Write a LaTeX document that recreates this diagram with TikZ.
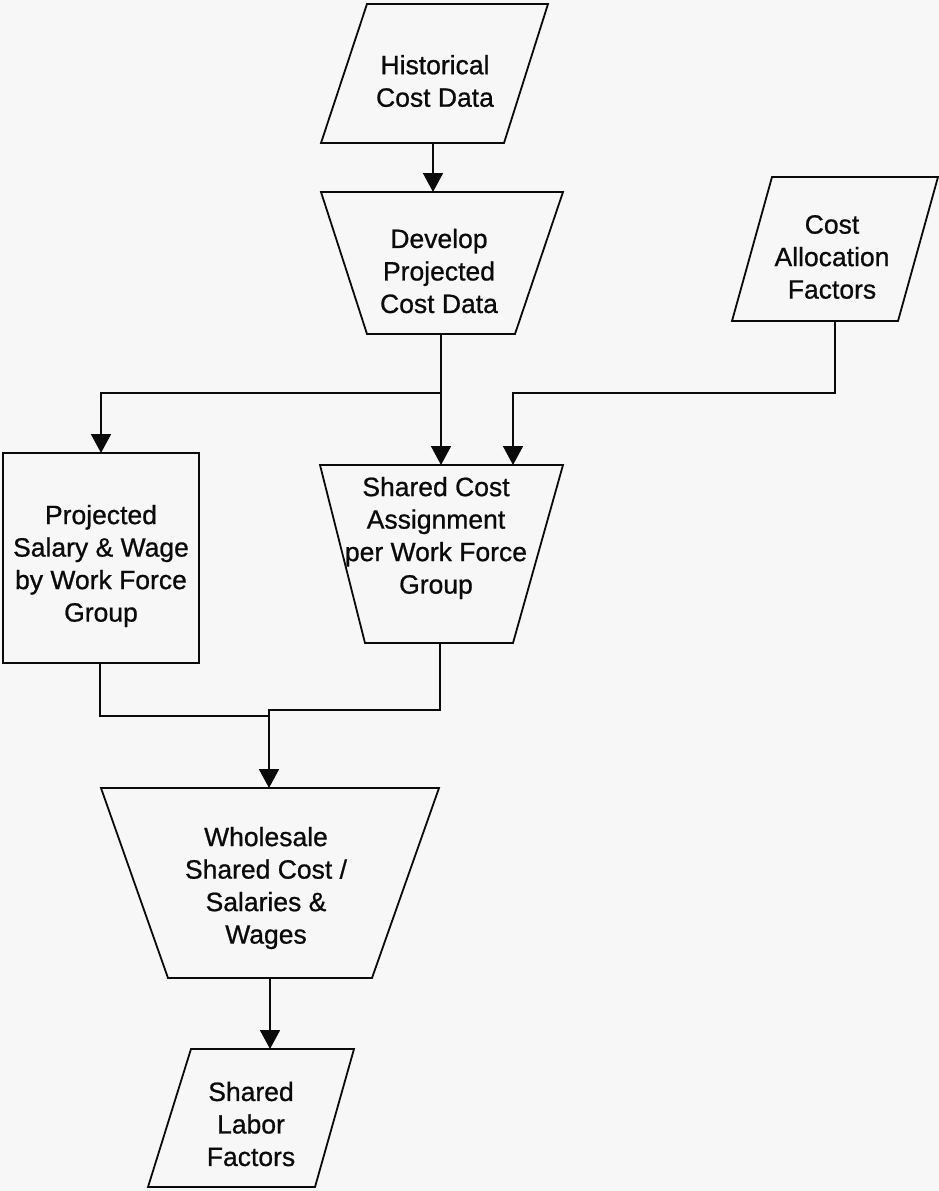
\documentclass[tikz,border=0pt]{standalone}
\usepackage{fontspec}
\setmainfont{Liberation Sans}
\newfontfamily\diagfont{Liberation Sans}[BoldFont={Liberation Sans},BoldFeatures={FakeBold=0.8}]
\usetikzlibrary{arrows.meta}
\definecolor{bgc}{HTML}{F7F7F7}
\definecolor{ink}{HTML}{0A0A0A}
\begin{document}
\begin{tikzpicture}[x=1pt,y=-1pt,
  shapeline/.style={draw=ink,line width=1.8pt,line join=miter},
  txt/.style={align=center,inner sep=0pt,text=ink,font=\diagfont\bfseries\fontsize{26.5}{32.5}\selectfont},
  conn/.style={draw=ink,line width=1.8pt},
  arr/.style={conn,-{Triangle[width=20pt,length=19pt]}}]
\fill[bgc] (0,0) rectangle (939,1191);
\useasboundingbox (0,0) rectangle (939,1191);

% Historical Cost Data (parallelogram)
\draw[shapeline] (367,4) -- (548,4) -- (504,143) -- (321,143) -- cycle;
\node[txt] (hist) at (435,81) {Historical\\Cost Data};
\coordinate (histS) at (433,143);

% Develop Projected Cost Data (trapezoid)
\draw[shapeline] (321,192) -- (563,192) -- (515,334) -- (367,334) -- cycle;
\node[txt] (dev) at (439,271) {Develop\\Projected\\Cost Data};
\coordinate (devN) at (433,192);
\coordinate (devS) at (441,334);

% Cost Allocation Factors (parallelogram)
\draw[shapeline] (772,177) -- (938,177) -- (898,321) -- (732,321) -- cycle;
\node[txt] (caf) at (832,257) {Cost\\Allocation\\Factors};
\coordinate (cafS) at (835,321);

% Projected Salary & Wage (rectangle)
\draw[shapeline] (3,453) rectangle (199,663);
\node[txt] (proj) at (101,566) {Projected\\Salary \& Wage\\by Work Force\\Group};
\coordinate (projN) at (101,453);
\coordinate (projS) at (100,663);

% Shared Cost Assignment (trapezoid)
\draw[shapeline] (320,465) -- (563,465) -- (513,643) -- (365,643) -- cycle;
\node[txt] (sca) at (436,538) {Shared Cost\\Assignment\\per Work Force\\Group};
\coordinate (scaN1) at (441,465);
\coordinate (scaN2) at (513,465);
\coordinate (scaS) at (440,643);

% Wholesale Shared Cost (trapezoid)
\draw[shapeline] (101,788) -- (439,788) -- (372,978) -- (168,978) -- cycle;
\node[txt] (whs) at (266,888) {Wholesale\\Shared Cost /\\Salaries \&\\Wages};
\coordinate (whsN) at (269,788);
\coordinate (whsS) at (270,978);

% Shared Labor Factors (parallelogram)
\draw[shapeline] (191,1049) -- (354,1049) -- (315,1187) -- (148,1187) -- cycle;
\node[txt] (slf) at (251,1124) {Shared\\Labor\\Factors};
\coordinate (slfN) at (270,1049);

% connectors
\draw[arr] (histS) -- (devN);
\draw[arr] (devS) -- (scaN1);
\draw[arr] (devS |- 0,393) -- (101,393) -- (projN);
\draw[arr] (cafS) -- (835,393) -- (513,393) -- (scaN2);
\draw[conn] (projS) -- (100,716) -- (269,716);
\draw[arr] (scaS) -- (440,710) -- (269,710) -- (whsN);
\draw[arr] (whsS) -- (slfN);
\end{tikzpicture}
\end{document}
